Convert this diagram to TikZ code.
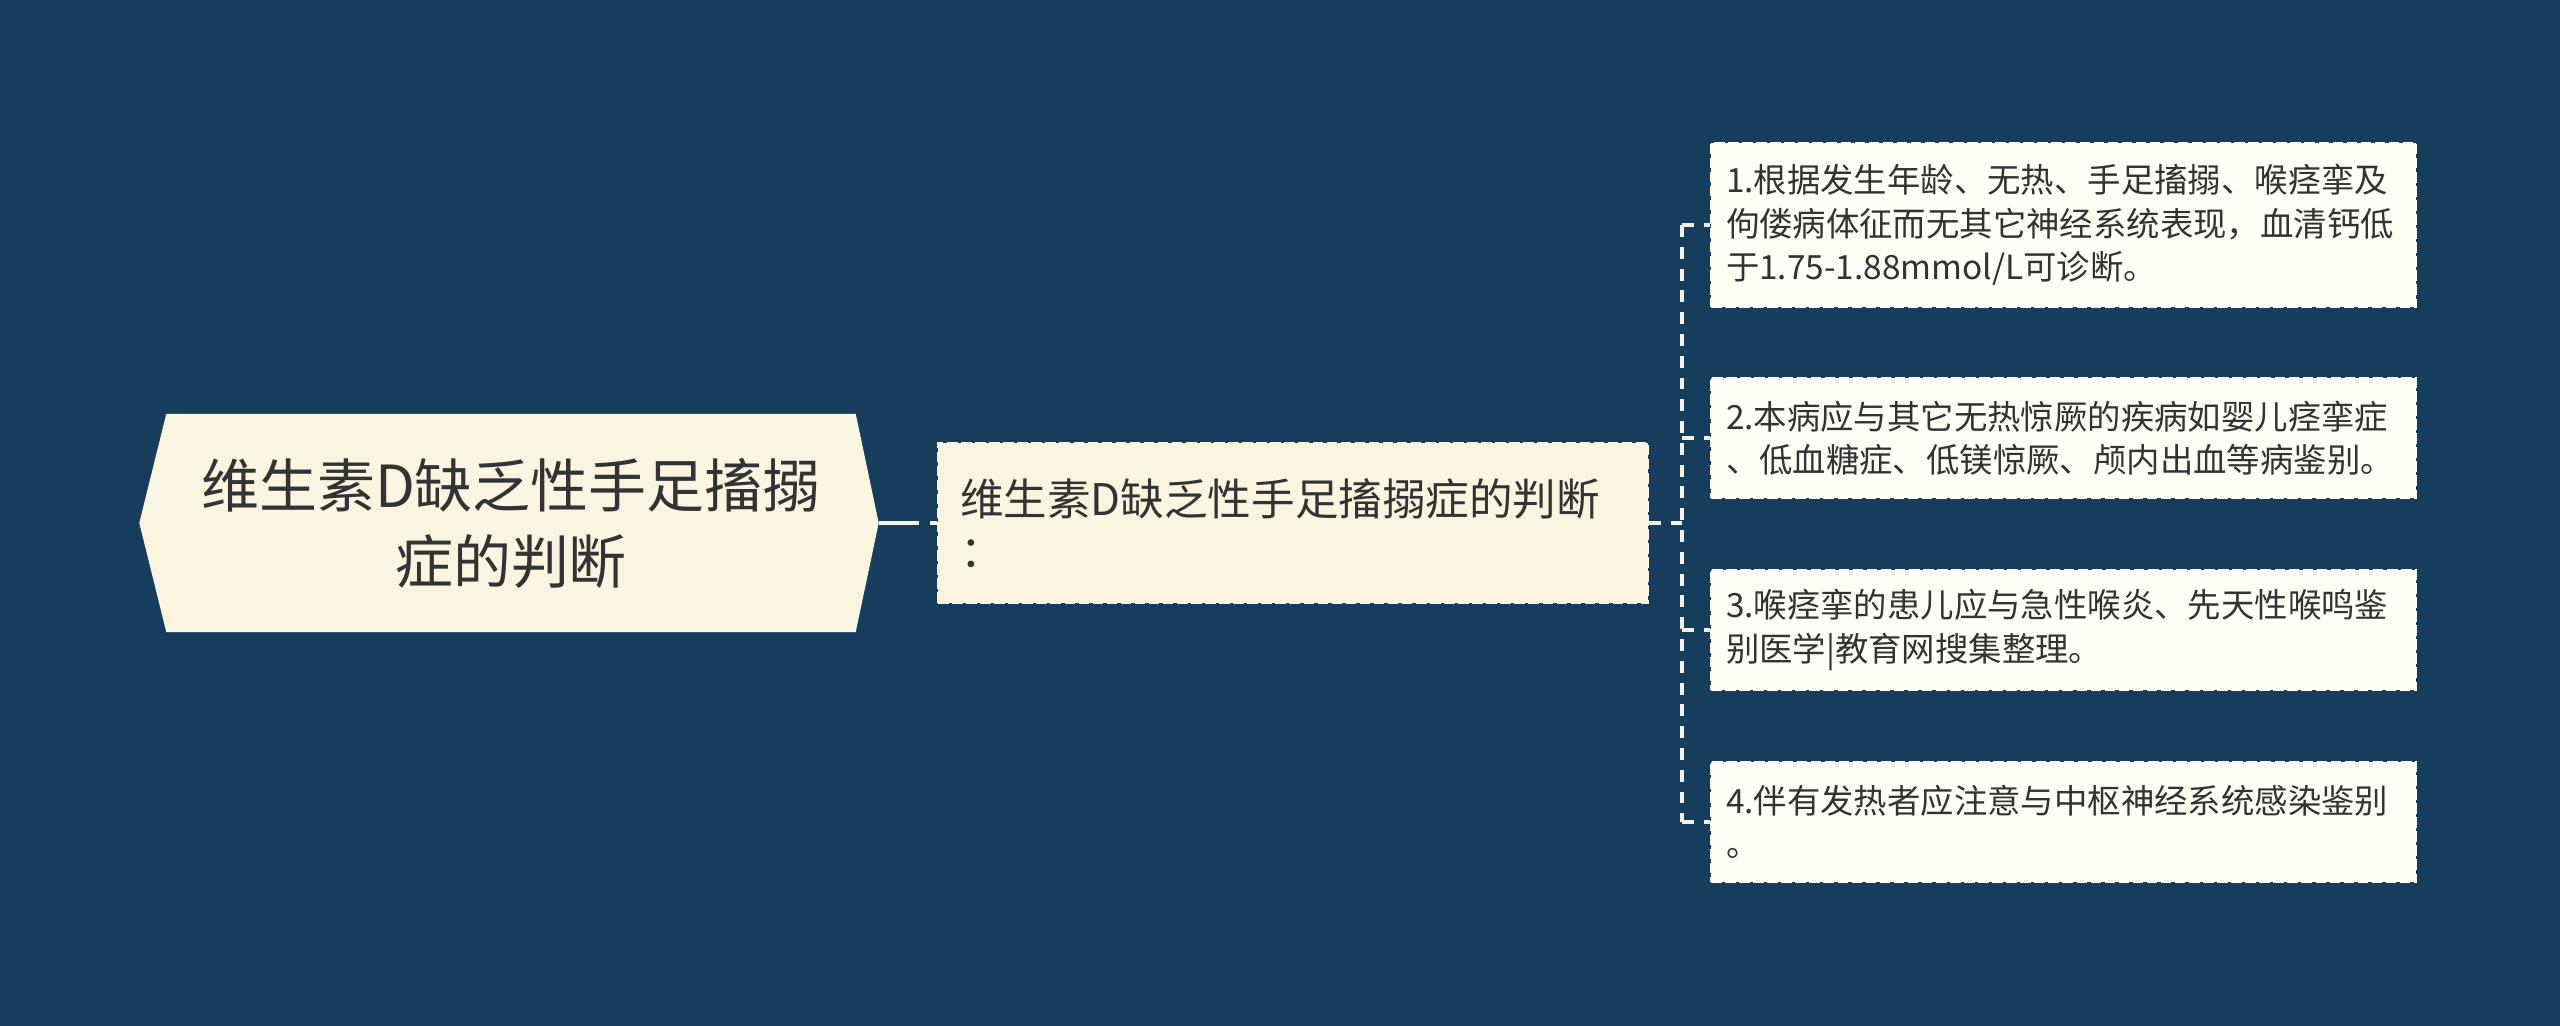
\documentclass[tikz,border=0pt]{standalone}
\usepackage{fontspec}
\setmainfont{Noto Sans CJK SC}
\usepackage{xcolor}

\definecolor{navy}{HTML}{173D5D}
\definecolor{rootcream}{HTML}{FAF5E1}
\definecolor{maincream}{HTML}{F9F5E1}
\definecolor{leafcream}{HTML}{FEFDF6}
\definecolor{inkgray}{HTML}{333333}
\definecolor{linecream}{HTML}{F4F1E6}

\pgfdeclarelayer{backdrop}
\pgfdeclarelayer{background}
\pgfsetlayers{backdrop,background,main}

\tikzset{
  rootbox/.style={minimum width=6.88cm, minimum height=2.17cm, align=center, text=inkgray,
    font=\fontsize{16.5}{21.6}\selectfont},
  mainbox/.style={fill=maincream, draw=maincream, line width=0.8pt, dash pattern=on 3pt off 1pt,
    text width=6.66cm, inner xsep=0.22cm, minimum height=1.6cm, align=left, text=inkgray,
    font=\fontsize{12.4}{15}\selectfont},
  leafbox/.style={fill=leafcream, draw=leafcream, line width=0.8pt, dash pattern=on 3pt off 1pt,
    text width=6.75cm, inner xsep=0.15cm, align=left, text=inkgray,
    font=\fontsize{9.5}{12.3}\selectfont},
  link/.style={draw=linecream, line width=1pt},
  twig/.style={link, dash pattern=on 3.4pt off 2.8pt},
}

\begin{document}
\begin{tikzpicture}
  \useasboundingbox (0,0) rectangle (25.6,10.26);
  \begin{pgfonlayer}{backdrop}
    \fill[navy] (0,0) rectangle (25.6,10.26);
  \end{pgfonlayer}

  % Nodes
  \node[rootbox] (root) at (5.11, 5.03) {维生素D缺乏性手足搐搦\\症的判断}; % Root
  \node[mainbox] (main) at (12.93, 5.03) {维生素D缺乏性手足搐搦症的判断\\：}; % Topic
  \node[leafbox, minimum height=1.64cm] (leaf1) at (20.635, 8.01) {1.根据发生年龄、无热、手足搐搦、喉痉挛及\\佝偻病体征而无其它神经系统表现，血清钙低\\于1.75-1.88mmol/L可诊断。}; % Leaf
  \node[leafbox, minimum height=1.2cm] (leaf2) at (20.635, 5.88) {2.本病应与其它无热惊厥的疾病如婴儿痉挛症\\、低血糖症、低镁惊厥、颅内出血等病鉴别。}; % Leaf
  \node[leafbox, minimum height=1.2cm] (leaf3) at (20.635, 3.96) {3.喉痉挛的患儿应与急性喉炎、先天性喉鸣鉴\\别医学|教育网搜集整理。}; % Leaf
  \node[leafbox, minimum height=1.2cm] (leaf4) at (20.635, 2.04) {4.伴有发热者应注意与中枢神经系统感染鉴别\\。}; % Leaf
  \coordinate (fork) at (16.82, 5.03);

  % Root outline
  \begin{pgfonlayer}{background}
    \fill[rootcream] ([xshift=-0.27cm]root.west) -- (root.north west) -- (root.north east)
      -- ([xshift=0.23cm]root.east) -- (root.south east) -- (root.south west) -- cycle;
  \end{pgfonlayer}

  % Edges
  \draw[link, dash pattern=on 11.6pt off 3.1pt] ([xshift=0.23cm]root.east) -- (main.west);
  \draw[twig] (main.east) -- (fork);
  \draw[twig] (leaf1.west -| fork) -- (leaf4.west -| fork);
  \draw[twig] (leaf1.west -| fork) -- (leaf1.west);
  \draw[twig] (leaf2.west -| fork) -- (leaf2.west);
  \draw[twig] (leaf3.west -| fork) -- (leaf3.west);
  \draw[twig] (leaf4.west -| fork) -- (leaf4.west);
\end{tikzpicture}
\end{document}
